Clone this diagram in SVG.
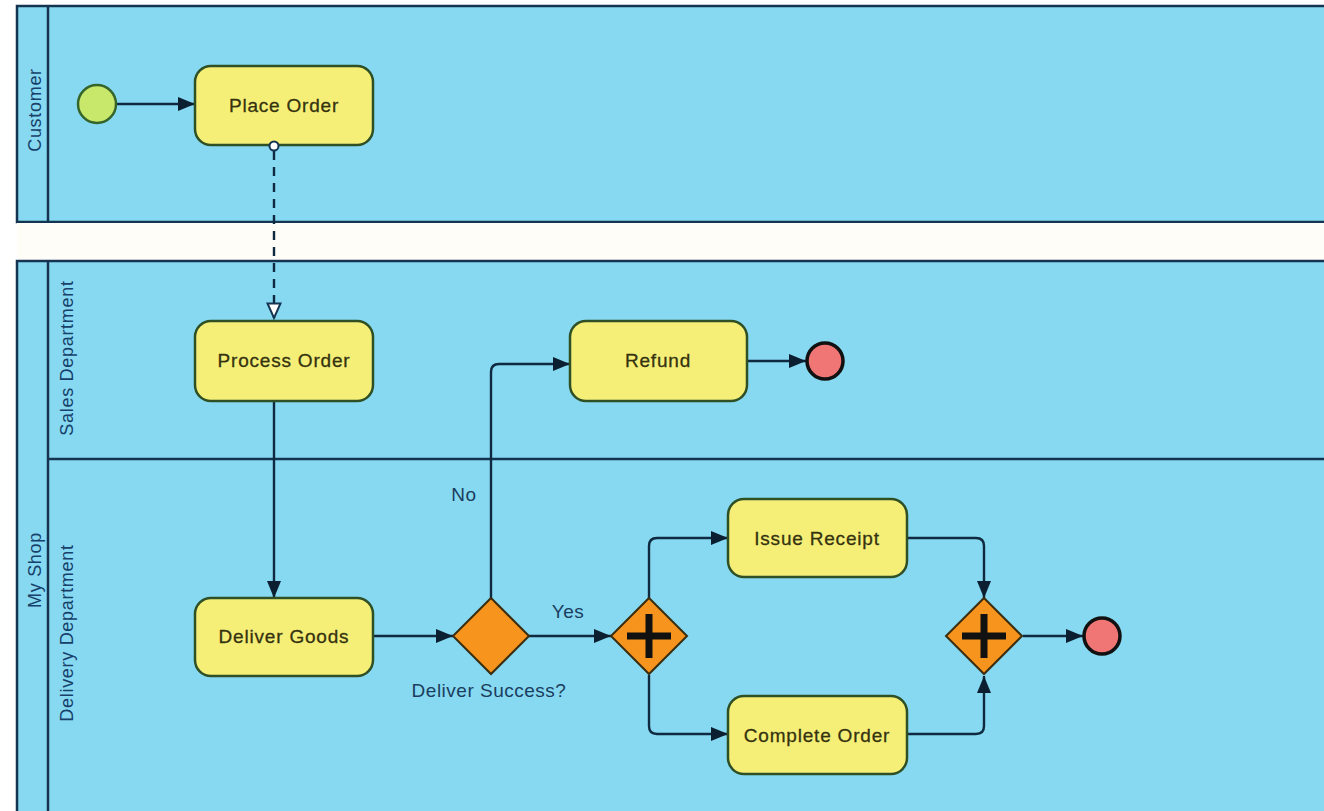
<svg xmlns="http://www.w3.org/2000/svg" width="1324" height="811" viewBox="0 0 1324 811">
<style>
.lane{fill:#86d9f1;stroke:none}
.border{stroke:#143452;stroke-width:2.5;fill:none}
.lbl{font-family:"Liberation Sans",Arial,sans-serif;font-size:18px;fill:#17406a;letter-spacing:0.7px}
.task rect{fill:#f5ef78;stroke:#2f4f25;stroke-width:2.5}
.task text{font-family:"Liberation Sans",Arial,sans-serif;font-size:19px;fill:#35330f;text-anchor:middle;letter-spacing:0.8px;stroke:#35330f;stroke-width:0.3}
.gw{fill:#f7941d;stroke:#3b2d10;stroke-width:2}
.plus{stroke:#111;stroke-width:7;fill:none}
.end{fill:#f07575;stroke:#111;stroke-width:3.5}
.flow{fill:none;stroke:#0f2a40;stroke-width:2.4}
.note{font-family:"Liberation Sans",Arial,sans-serif;font-size:19px;fill:#1b3d5e;text-anchor:middle;letter-spacing:0.5px}
</style>
<defs>
<marker id="arr" markerUnits="userSpaceOnUse" markerWidth="18" markerHeight="14" refX="17" refY="7" orient="auto">
<path d="M0,0 L17,7 L0,14 z" fill="#0c1f30"/>
</marker>
<marker id="open" markerUnits="userSpaceOnUse" markerWidth="16" markerHeight="18" refX="8" refY="16" orient="0">
<path d="M1.5,1.5 L14.5,1.5 L8,16 z" fill="#fff" stroke="#143452" stroke-width="2"/>
</marker>
</defs>
<rect x="0" y="0" width="1324" height="811" fill="#ffffff"/>
<g id="pool-customer">
<rect class="lane" x="17" y="6" width="1307" height="216"/>
<path class="border" d="M1324,6 H17 V222 H1324 M48,6 V222"/>
<text class="lbl" transform="translate(41,110) rotate(-90)" text-anchor="middle">Customer</text>
</g>
<rect x="17" y="223" width="1307" height="38" fill="#fffdf8"/>
<g id="pool-myshop">
<rect class="lane" x="17" y="261" width="1307" height="550"/>
<path class="border" d="M1324,261 H17 V811 M48,261 V811 M48,459 H1324"/>
<text class="lbl" transform="translate(41,570) rotate(-90)" text-anchor="middle">My Shop</text>
</g>
<g id="lane-sales">
<text class="lbl" transform="translate(73,358) rotate(-90)" text-anchor="middle">Sales Department</text>
</g>
<g id="lane-delivery">
<text class="lbl" transform="translate(73,633) rotate(-90)" text-anchor="middle">Delivery Department</text>
</g>
<g id="connectors">
<path class="flow" d="M117,104 H195" marker-end="url(#arr)"/>
<path class="flow" d="M274,151 V318" stroke-dasharray="9,7" marker-end="url(#open)"/>
<path class="flow" d="M274,401 V598" marker-end="url(#arr)"/>
<path class="flow" d="M373,636 H453" marker-end="url(#arr)"/>
<path class="flow" d="M491,599 V372 Q491,364 499,364 H570" marker-end="url(#arr)"/>
<path class="flow" d="M747,361 H806" marker-end="url(#arr)"/>
<path class="flow" d="M529,636 H611" marker-end="url(#arr)"/>
<path class="flow" d="M649,599 V546 Q649,538 657,538 H728" marker-end="url(#arr)"/>
<path class="flow" d="M649,675 V726 Q649,734 657,734 H728" marker-end="url(#arr)"/>
<path class="flow" d="M907,538 H976 Q984,538 984,546 V598" marker-end="url(#arr)"/>
<path class="flow" d="M907,734 H976 Q984,734 984,726 V676" marker-end="url(#arr)"/>
<path class="flow" d="M1023,636 H1083" marker-end="url(#arr)"/>
<text class="note" x="464" y="501">No</text>
<text class="note" x="568" y="618">Yes</text>
</g>
<g id="start">
<circle cx="97" cy="104" r="19" fill="#c8e86c" stroke="#35652a" stroke-width="2.5"/>
</g>
<g id="place-order" class="task">
<rect x="195" y="66" width="178" height="79" rx="16"/>
<text x="284" y="112">Place Order</text>
<circle cx="274" cy="146" r="4.5" fill="#fff" stroke="#143452" stroke-width="2"/>
</g>
<g id="process-order" class="task">
<rect x="195" y="321" width="178" height="80" rx="16"/>
<text x="284" y="367">Process Order</text>
</g>
<g id="deliver-goods" class="task">
<rect x="195" y="598" width="178" height="78" rx="16"/>
<text x="284" y="643">Deliver Goods</text>
</g>
<g id="refund" class="task">
<rect x="570" y="321" width="177" height="80" rx="16"/>
<text x="658" y="367">Refund</text>
</g>
<g id="issue-receipt" class="task">
<rect x="728" y="499" width="179" height="78" rx="16"/>
<text x="817" y="545">Issue Receipt</text>
</g>
<g id="complete-order" class="task">
<rect x="728" y="696" width="179" height="78" rx="16"/>
<text x="817" y="742">Complete Order</text>
</g>
<g id="gw-success">
<polygon class="gw" points="491,598 529,636 491,674 453,636"/>
<text class="note" x="489" y="697">Deliver Success?</text>
</g>
<g id="gw-fork">
<polygon class="gw" points="649,598 687,636 649,674 611,636"/>
<path class="plus" d="M627,636 H671 M649,614 V658"/>
</g>
<g id="gw-join">
<polygon class="gw" points="984,598 1022,636 984,674 946,636"/>
<path class="plus" d="M962,636 H1006 M984,614 V658"/>
</g>
<g id="end-refund">
<circle class="end" cx="825" cy="361" r="18"/>
</g>
<g id="end-main">
<circle class="end" cx="1102" cy="636" r="18"/>
</g>
</svg>
